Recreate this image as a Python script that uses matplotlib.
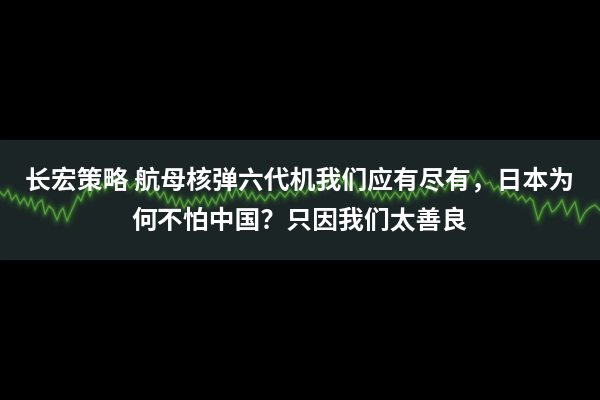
import matplotlib
matplotlib.use("Agg")
import matplotlib.pyplot as plt

plt.rcParams['font.family'] = ['Noto Sans CJK SC', 'DejaVu Sans']

# Waveform trace (x pixel column, y pixel row)
wave_x = [0, 4, 8, 12, 16, 20, 24, 28, 31, 35, 38, 42, 45, 49, 53, 57, 60, 63, 67, 70,
          74, 78, 81, 84, 87, 90, 94, 98, 102, 105, 108,
          112, 116, 120, 125, 130, 135, 140, 145, 150, 155, 160, 164, 168, 172, 176, 180,
          184, 188, 192, 196, 200,
          204, 208, 212, 216, 220, 224, 228, 232, 236, 240, 244, 248, 252, 256, 260,
          265, 270, 275, 280, 285, 290, 295, 300, 305, 310, 315, 320, 325, 330, 335, 338,
          342, 346, 350, 354, 358, 362, 366, 370, 374, 378, 382, 386, 390, 395, 400,
          404, 408, 412, 416, 420, 425, 430, 435, 440, 445, 450, 455, 460, 465, 470, 474,
          478, 482, 486, 490, 494, 498, 502, 506, 510, 514, 518, 522, 526, 530, 533, 538,
          543, 548, 552, 555, 559, 562, 567, 571, 575, 580, 584, 587, 591, 595, 600]
wave_y = [192, 196, 190, 200, 195, 204, 198, 206, 198, 210, 203, 200, 214, 206, 210, 220, 212, 208, 221, 214,
          205, 196, 201, 193, 188, 196, 186, 191, 184, 190, 180,
          186, 178, 184, 180, 188, 183, 192, 186, 195, 190, 198, 192, 203, 196, 206, 198,
          208, 200, 205, 197, 203,
          196, 206, 198, 204, 194, 201, 190, 198, 188, 196, 190, 199, 192, 200, 195,
          201, 194, 199, 192, 197, 190, 196, 189, 194, 186, 192, 184, 188, 178, 185, 174,
          183, 177, 188, 182, 192, 186, 196, 189, 198, 191, 200, 193, 199, 192, 198,
          192, 200, 190, 197, 188, 195, 185, 192, 183, 190, 180, 188, 177, 184, 175, 182,
          171, 178, 184, 182, 190, 186, 194, 190, 197, 193, 200, 196, 202, 198, 201, 220,
          208, 202, 212, 210, 205, 200, 215, 208, 202, 222, 214, 210, 207, 205, 210]

title_lines = ["长宏策略 航母核弹六代机我们应有尽有，日本为",
               "何不怕中国？只因我们太善良"]

fig = plt.figure(figsize=(6, 4), dpi=100)
fig.patch.set_facecolor('black')
ax = fig.add_axes([0, 0, 1, 1])
ax.set_facecolor('black')
ax.set_xlim(0, 600)
ax.set_ylim(400, 0)
ax.axis('off')

ax.axhspan(140, 259, color='#1b2526', zorder=0)

# glow
for lw, a in [(10, 0.04), (7, 0.06), (4.5, 0.10), (2.8, 0.18)]:
    ax.plot(wave_x, wave_y, color='#4fbf2f', lw=lw, alpha=a, solid_joinstyle='round',
            solid_capstyle='round', zorder=2)
ax.plot(wave_x, wave_y, color='#7fd451', lw=1.0, alpha=0.55, zorder=3)

ax.text(300, 182, title_lines[0], color='white', fontsize=18.6, fontweight='bold',
        ha='center', va='center', zorder=5)
ax.text(300, 222, title_lines[1], color='white', fontsize=18.6, fontweight='bold',
        ha='center', va='center', zorder=5)

fig.savefig('out.png', dpi=100, facecolor='black')
